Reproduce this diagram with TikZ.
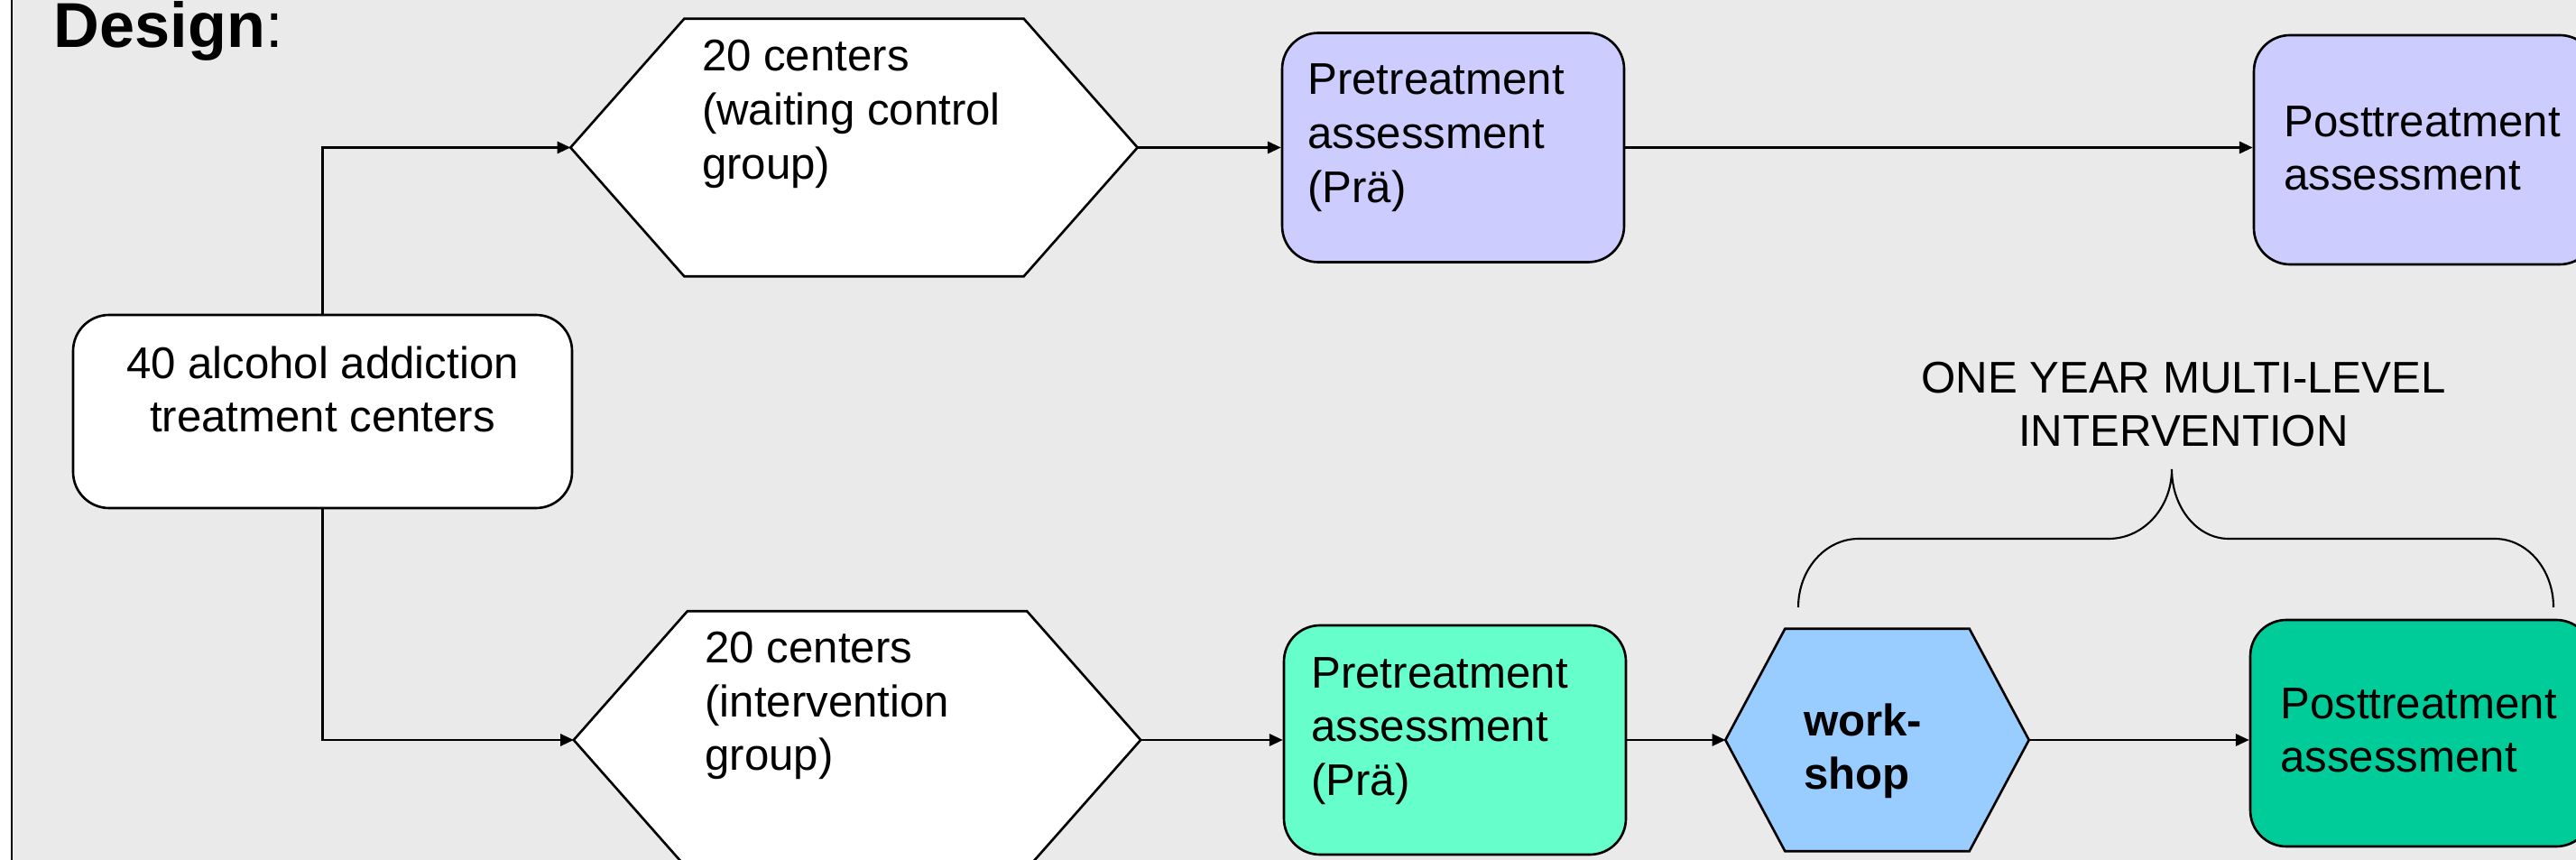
\documentclass[tikz,border=0pt]{standalone}
\usepackage{fontspec}
\setmainfont{Liberation Sans}
\usetikzlibrary{arrows.meta,positioning}
\definecolor{slidegray}{HTML}{EAEAEA}
\definecolor{waitblue}{HTML}{CCCCFF}
\definecolor{pregreen}{HTML}{66FFCC}
\definecolor{workblue}{HTML}{99CCFF}
\definecolor{postgreen}{HTML}{00CC99}
% hexagon round a node: name, inset of the tips, fill
\newcommand{\hexoutline}[3]{%
  \draw[line width=0.75pt, fill=#3] (#1.west) -- ([xshift=#2]#1.north west) -- ([xshift=-#2]#1.north east)
    -- (#1.east) -- ([xshift=-#2]#1.south east) -- ([xshift=#2]#1.south west) -- cycle;}

\begin{document}
\begin{tikzpicture}[
    box/.style={rectangle, draw, rounded corners=0.4cm, line width=0.75pt, inner sep=0pt},
    centerbox/.style={box, fill=white, minimum width=5.53cm, minimum height=2.14cm},
    assess/.style={box, minimum width=3.79cm, minimum height=2.54cm},
    grouphex/.style={rectangle, inner sep=0pt, minimum width=6.27cm, minimum height=2.84cm},
    workhex/.style={rectangle, inner sep=0pt, minimum width=3.35cm, minimum height=2.45cm},
    txt/.style={font=\fontsize{14}{17}\selectfont, align=left, inner sep=0pt},
    flow/.style={-{Triangle[length=4.2pt,width=3.8pt]}, line width=0.6pt},
    bracepath/.style={line width=0.6pt}
  ]
    \useasboundingbox (0,0) rectangle (28.55,-9.53);
    \clip (0,0) rectangle (28.55,-9.53);
    \fill[slidegray] (0.13,0) rectangle (28.55,-9.53);
    \draw[line width=0.8pt] (0.13,0) -- (0.13,-9.53);

    \node[anchor=base west, inner sep=0pt, font=\fontsize{20}{24}\selectfont] (design) at (0.59,-0.53) {\textbf{Design}:};

    % start of the design
    \node[centerbox] (origin) at (3.575,-4.56) {};
    \node[txt, align=center, below=0.35cm of origin.north] (origintxt) {40 alcohol addiction\\treatment centers};

    % waiting control group
    \node[grouphex] (waitgrp) at (9.465,-1.635) {};
    \hexoutline{waitgrp}{1.26cm}{white}
    \node[txt, below right=0.23cm and 1.45cm of waitgrp.north west] (waittxt) {20 centers\\(waiting control\\group)};

    \node[assess, fill=waitblue] (waitpre) at (16.105,-1.635) {};
    \node[txt, below right=0.35cm and 0.29cm of waitpre.north west] (waitpretxt) {Pretreatment\\assessment\\(Prä)};

    \node[assess, fill=waitblue] (waitpost) at (26.875,-1.66) {};
    \node[txt, below right=0.79cm and 0.34cm of waitpost.north west] (waitposttxt) {Posttreatment\\assessment};

    % intervention group
    \node[grouphex] (intgrp) at (9.50,-8.20) {};
    \hexoutline{intgrp}{1.26cm}{white}
    \node[txt, below right=0.22cm and 1.45cm of intgrp.north west] (inttxt) {20 centers\\(intervention\\group)};

    \node[assess, fill=pregreen] (intpre) at (16.125,-8.20) {};
    \node[txt, below right=0.36cm and 0.31cm of intpre.north west] (intpretxt) {Pretreatment\\assessment\\(Prä)};

    \node[workhex] (wshop) at (20.805,-8.20) {};
    \hexoutline{wshop}{0.66cm}{workblue}
    \node[txt, font=\fontsize{14}{17}\selectfont\bfseries, below right=0.82cm and 0.86cm of wshop.north west] (wshoptxt) {work-\\shop};

    \node[assess, fill=postgreen, minimum height=2.51cm] (intpost) at (26.835,-8.125) {};
    \node[txt, below right=0.76cm and 0.34cm of intpost.north west] (intposttxt) {Posttreatment\\assessment};

    % connectors
    \draw[flow] (origin.north) |- (waitgrp.west);
    \draw[flow] (origin.south) |- (intgrp.west);
    \draw[flow] (waitgrp.east) -- (waitpre.west);
    \draw[flow] (waitpre.east) -- (waitpre.east -| waitpost.west);
    \draw[flow] (intgrp.east) -- (intpre.west);
    \draw[flow] (intpre.east) -- (wshop.west);
    \draw[flow] (wshop.east) -- (wshop.east -| intpost.west);

    % one year brace
    \coordinate (braceL) at (19.93,-6.73);
    \coordinate (bracetip) at (24.07,-5.20);
    \draw[bracepath] (braceL) arc[start angle=180, end angle=90, x radius=0.67cm, y radius=0.76cm]
      -- ++(2.77,0) arc[start angle=270, end angle=360, x radius=0.70cm, y radius=0.77cm]
      arc[start angle=180, end angle=270, x radius=0.63cm, y radius=0.77cm]
      -- ++(2.95,0) arc[start angle=90, end angle=0, x radius=0.65cm, y radius=0.76cm];
    \node[txt, align=center, above=0.24cm of bracetip, xshift=0.13cm] (ivlabel) {ONE YEAR MULTI-LEVEL\\INTERVENTION};
  \end{tikzpicture}
\end{document}
